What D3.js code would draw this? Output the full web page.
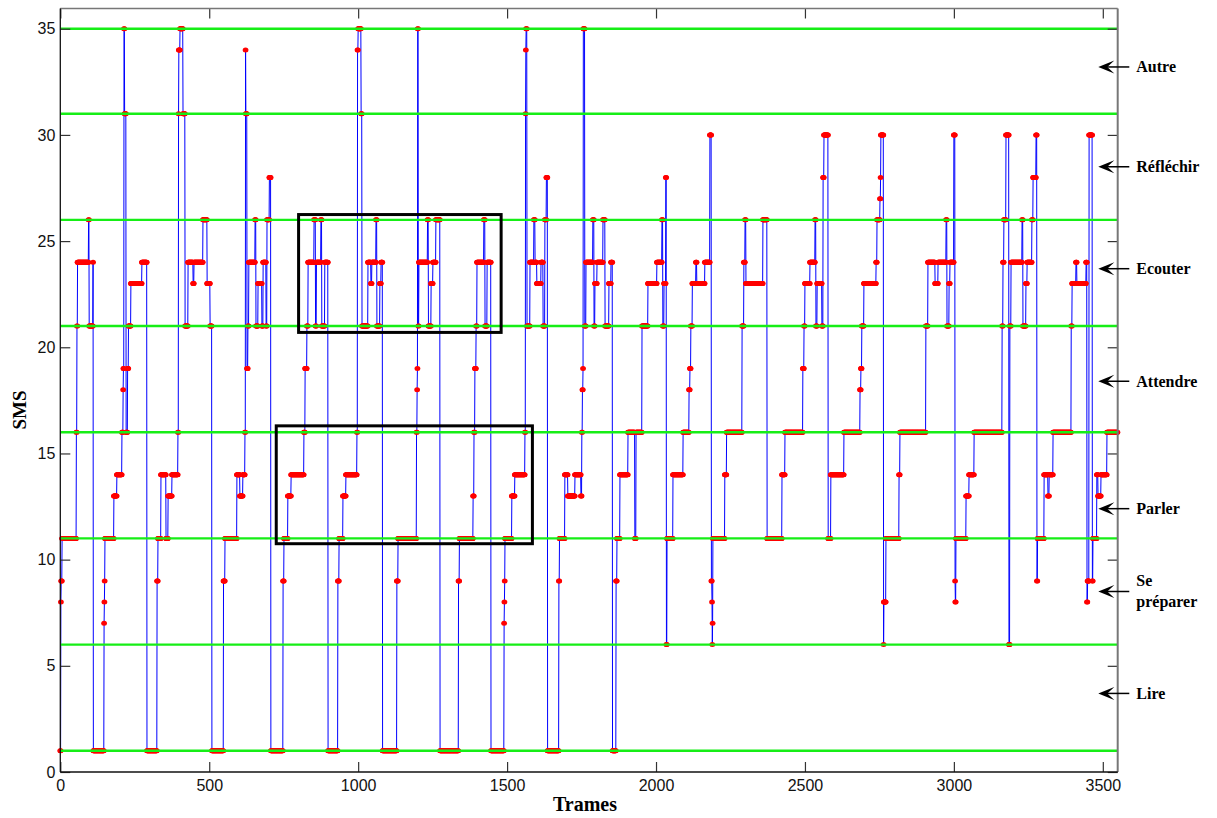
<!DOCTYPE html>
<html><head><meta charset="utf-8">
<script src="https://cdn.jsdelivr.net/npm/d3@7"></script>
<style>body{margin:0;background:#fff;} svg{display:block;}</style>
</head><body>
<svg id="chart" width="1217" height="818"></svg>
<script>
// ---- data (run-length encoded state sequence: start frame of each run, state value) ----
const runStarts = [0,2,3,6,54,56,58,95,97,110,111,147,148,149,150,180,190,207,211,212,214,216,221,226,229,237,274,291,325,328,338,355,362,375,395,397,398,402,412,419,429,446,449,479,493,503,509,548,553,593,603,613,620,622,623,627,630,633,654,657,664,677,681,691,694,702,707,748,751,764,775,818,822,828,832,852,857,860,875,878,888,899,932,936,949,959,996,998,1000,1010,1013,1033,1043,1046,1060,1063,1073,1077,1082,1130,1134,1196,1198,1199,1200,1202,1204,1233,1236,1245,1251,1261,1275,1337,1340,1386,1389,1392,1396,1399,1422,1426,1433,1446,1490,1491,1492,1493,1516,1526,1560,1562,1563,1564,1567,1577,1590,1594,1600,1614,1621,1627,1632,1636,1674,1676,1694,1704,1728,1748,1751,1753,1755,1756,1761,1765,1788,1792,1795,1802,1822,1829,1842,1849,1854,1866,1869,1879,1906,1929,1933,1953,1973,2003,2020,2023,2027,2033,2035,2037,2057,2091,2111,2114,2117,2122,2134,2137,2164,2181,2186,2188,2189,2190,2191,2231,2237,2289,2295,2299,2302,2359,2373,2423,2433,2493,2497,2500,2517,2534,2537,2541,2557,2561,2564,2578,2587,2631,2685,2688,2691,2698,2739,2742,2752,2754,2755,2764,2765,2772,2816,2819,2906,2913,2937,2947,2974,2977,2984,2987,3000,3004,3005,3007,3041,3051,3068,3162,3165,3168,3175,3185,3188,3192,3229,3232,3242,3246,3262,3266,3276,3279,3281,3303,3316,3320,3333,3394,3397,3410,3413,3444,3447,3449,3454,3465,3467,3480,3484,3494,3514];
const runStates = [1,8,9,11,16,21,24,26,21,24,1,7,8,9,11,13,14,16,18,19,35,31,16,19,21,23,24,1,9,11,14,11,13,14,16,31,34,35,31,21,24,23,24,26,23,21,1,9,11,14,13,14,16,34,31,19,21,24,26,21,23,21,24,21,26,28,1,9,11,13,14,16,19,21,24,26,21,24,26,21,24,1,9,11,13,14,16,34,35,31,21,24,23,24,26,21,23,24,1,9,11,16,18,19,35,21,24,26,21,23,24,26,1,9,11,13,16,19,21,24,26,21,24,1,7,8,9,11,13,14,16,31,34,35,21,24,26,24,23,24,21,26,28,1,9,11,14,13,14,13,16,18,19,35,21,24,26,21,23,24,26,21,23,24,1,9,11,14,16,11,16,21,23,24,26,21,23,28,6,11,14,16,18,19,21,23,24,23,24,30,9,8,6,7,11,14,16,21,24,26,23,26,11,14,16,19,21,23,24,26,21,23,21,28,30,11,14,16,18,19,21,23,24,26,27,28,30,6,8,11,14,16,21,24,23,24,26,21,23,24,30,9,8,11,13,14,16,21,24,26,30,6,21,24,26,21,23,24,26,28,30,9,11,14,13,14,16,21,23,24,23,24,8,9,30,9,11,14,13,14,16];
const frameCount = 3550;
const stateLines = [1, 6, 11, 16, 21, 26, 31, 35];
const xTicks = [0, 500, 1000, 1500, 2000, 2500, 3000, 3500];
const yTicks = [0, 5, 10, 15, 20, 25, 30, 35];
const labelTexts = [["Autre"], ["Réfléchir"], ["Ecouter"], ["Attendre"], ["Parler"], ["Se", "préparer"], ["Lire"]];
const labelValues = [33.2, 28.5, 23.7, 18.4, 12.4, 8.5, 3.7];
const boxX0 = [800, 725], boxX1 = [1480, 1585];
const boxY0 = [20.7, 10.75], boxY1 = [26.25, 16.3];

// ---- expand runs into per-frame series ----
const series = [];
let r = 0;
for (let f = 0; f < frameCount; f++) {
  while (r + 1 < runStarts.length && runStarts[r + 1] <= f) r++;
  series.push({ f: f, v: runStates[r] });
}

const svg = d3.select("#chart");
const L = 60.3, R = 1117.7, T = 7.5, B = 772;
const x = d3.scaleLinear().domain([0, 3550]).range([L, R]);
const y = d3.scaleLinear().domain([0, 36]).range([B, T]);

svg.append("rect").attr("width", 1217).attr("height", 818).attr("fill", "#fff");

const plot = svg.append("g");
plot.append("path").datum(series)
  .attr("fill", "none").attr("stroke", "#0000ff").attr("stroke-width", 1)
  .attr("d", d3.line().x(d => x(d.f)).y(d => y(d.v)));

plot.append("g").selectAll("ellipse").data(series).join("ellipse")
  .attr("cx", d => x(d.f)).attr("cy", d => y(d.v))
  .attr("rx", 2.9).attr("ry", 2.5).attr("fill", "#ff0000");

plot.append("g").selectAll("line").data(stateLines).join("line")
  .attr("x1", x(0)).attr("x2", x(3550))
  .attr("y1", d => y(d)).attr("y2", d => y(d))
  .attr("stroke", "#16ee16").attr("stroke-width", 2.4);

plot.append("g").selectAll("rect").data(boxX0.map((d, i) => i)).join("rect")
  .attr("x", i => x(boxX0[i])).attr("y", i => y(boxY1[i]))
  .attr("width", i => x(boxX1[i]) - x(boxX0[i]))
  .attr("height", i => y(boxY0[i]) - y(boxY1[i]))
  .attr("fill", "none").attr("stroke", "#000").attr("stroke-width", 3);

// ---- axes ----
function styleAxis(g) {
  g.select(".domain").remove();
  g.selectAll(".tick line").attr("stroke", "#333").attr("stroke-width", 1.2);
  g.selectAll(".tick text").attr("fill", "#111")
    .style("font-family", "'Liberation Sans', Arial, sans-serif").style("font-size", "16px");
}
const fmt = d3.format("d");
svg.append("g").attr("transform", `translate(${L},0)`)
  .call(d3.axisLeft(y).tickValues(yTicks).tickFormat(fmt).tickSizeInner(-10).tickSizeOuter(0).tickPadding(5)).call(styleAxis);
svg.append("g").attr("transform", `translate(0,${B})`)
  .call(d3.axisBottom(x).tickValues(xTicks).tickFormat(fmt).tickSizeInner(-10).tickSizeOuter(0).tickPadding(8)).call(styleAxis);
svg.append("g").attr("transform", `translate(${R},0)`)
  .call(d3.axisRight(y).tickValues(yTicks).tickSizeInner(-10).tickSizeOuter(0).tickFormat("")).call(styleAxis);
svg.append("g").attr("transform", `translate(0,${T + 1})`)
  .call(d3.axisTop(x).tickValues(xTicks).tickSizeInner(-10).tickSizeOuter(0).tickFormat("")).call(styleAxis);

// frame
svg.append("line").attr("x1", L).attr("x2", R).attr("y1", T + 1).attr("y2", T + 1).attr("stroke", "#777").attr("stroke-width", 1.5);
svg.append("line").attr("x1", R).attr("x2", R).attr("y1", T + 1).attr("y2", B).attr("stroke", "#777").attr("stroke-width", 2);
svg.append("line").attr("x1", L).attr("x2", L).attr("y1", T + 1).attr("y2", B).attr("stroke", "#111").attr("stroke-width", 1.3);
svg.append("line").attr("x1", L).attr("x2", R).attr("y1", B).attr("y2", B).attr("stroke", "#111").attr("stroke-width", 1.3);

// axis titles
const serif = "'Liberation Serif', 'Times New Roman', serif";
svg.append("text").attr("x", (L + R) / 2 - 4).attr("y", 811).attr("text-anchor", "middle")
  .style("font-family", serif).style("font-weight", "bold").style("font-size", "20px").text("Trames");
svg.append("text").attr("transform", "translate(26,410) rotate(-90)").attr("text-anchor", "middle")
  .style("font-family", serif).style("font-weight", "bold").style("font-size", "19px").text("SMS");

// ---- state annotations with arrows ----
const tipX = R - 19.4;
const ann = svg.append("g");
labelValues.forEach((v, i) => {
  const yy = y(v);
  ann.append("line").attr("x1", tipX + 8).attr("x2", tipX + 31).attr("y1", yy).attr("y2", yy)
    .attr("stroke", "#000").attr("stroke-width", 1.5);
  ann.append("path")
    .attr("d", `M${tipX},${yy} L${tipX + 16},${yy - 6.5} L${tipX + 9},${yy} L${tipX + 16},${yy + 6.5} Z`)
    .attr("fill", "#000");
  const lines = labelTexts[i];
  const t = ann.append("text")
    .style("font-family", serif).style("font-weight", "bold").style("font-size", "16px");
  lines.forEach((s, k) => {
    t.append("tspan").attr("x", tipX + 38).attr("y", yy + 5.5 + (k - (lines.length - 1) / 2) * 21).text(s);
  });
});
</script>
</body></html>
